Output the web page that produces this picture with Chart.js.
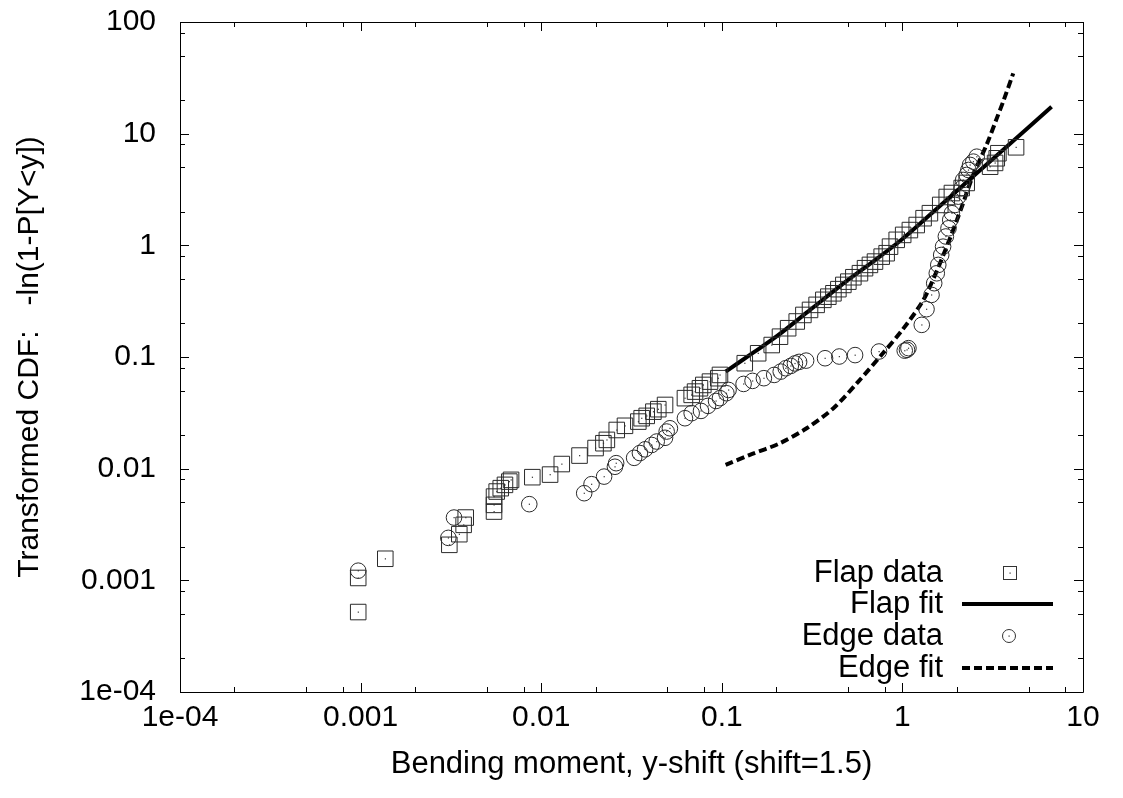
<!DOCTYPE html>
<html lang="en">
<head>
<meta charset="UTF-8">
<title>Transformed CDF - flap / edge bending moment</title>
<script src="https://cdn.jsdelivr.net/npm/chart.js"></script>
<style>
  html, body { margin: 0; padding: 0; background: #fff; }
</style>
</head>
<body>
<canvas id="chart" width="1123" height="798"></canvas>

<script>
// ---------------- data ----------------

// Flap data (squares)
const flapX = [0.00097, 0.00097, 0.00137, 0.0031, 0.00352, 0.00372, 0.00382, 0.00548, 0.00548, 0.00548,
  0.00567, 0.00597, 0.0063, 0.00666, 0.00681, 0.00893, 0.0112, 0.013, 0.0163, 0.02,
  0.0221, 0.0231, 0.0262, 0.0291, 0.0345, 0.036, 0.0384, 0.0418, 0.0445, 0.0485,
  0.0625, 0.0681, 0.0711, 0.0757, 0.079, 0.086, 0.0956, 0.0977, 0.134, 0.159,
  0.189, 0.21, 0.233, 0.26, 0.283, 0.308, 0.335, 0.365, 0.389, 0.415,
  0.442, 0.471, 0.502, 0.535, 0.582, 0.621, 0.661, 0.705, 0.768, 0.818,
  0.854, 0.93, 1.01, 1.1, 1.2, 1.31, 1.42, 1.62, 1.76, 1.88,
  2.13, 2.27, 3.06, 3.26, 3.33, 3.4, 4.26];
const flapY = [0.00052, 0.00105, 0.00156, 0.00208, 0.00259, 0.00314, 0.00365, 0.00413, 0.00474, 0.00562,
  0.00624, 0.00669, 0.00716, 0.00766, 0.00794, 0.00839, 0.00885, 0.011, 0.0131, 0.0153,
  0.0169, 0.0181, 0.0222, 0.0242, 0.0264, 0.0283, 0.0297, 0.0324, 0.0341, 0.0372,
  0.0428, 0.0458, 0.049, 0.0525, 0.0562, 0.0602, 0.0646, 0.0691, 0.088, 0.108,
  0.128, 0.152, 0.181, 0.208, 0.238, 0.264, 0.293, 0.325, 0.347, 0.372,
  0.405, 0.442, 0.473, 0.518, 0.563, 0.624, 0.668, 0.715, 0.792, 0.85,
  0.973, 1.12, 1.24, 1.37, 1.52, 1.75, 1.94, 2.3, 2.71, 2.94,
  3.26, 3.62, 5.06, 5.47, 6.02, 6.68, 7.55];

// Edge data (circles)
const edgeX = [0.00097, 0.00306, 0.00329, 0.00859, 0.0173, 0.019, 0.0223, 0.0256, 0.026, 0.0327,
  0.0352, 0.0376, 0.0409, 0.0436, 0.0485, 0.0495, 0.0516, 0.0625, 0.0681, 0.0767,
  0.0839, 0.0929, 0.0977, 0.106, 0.109, 0.132, 0.148, 0.171, 0.195, 0.212,
  0.226, 0.241, 0.254, 0.268, 0.293, 0.373, 0.447, 0.547, 0.742, 1.03,
  1.06, 1.08, 1.28, 1.36, 1.45, 1.5, 1.55, 1.58, 1.64, 1.68,
  1.74, 1.8, 1.84, 1.88, 1.96, 2.04, 2.13, 2.17, 2.27, 2.32,
  2.37, 2.47, 2.58];
const edgeY = [0.00122, 0.0024, 0.00365, 0.00481, 0.00603, 0.00726, 0.00849, 0.0104, 0.0112, 0.0125,
  0.0138, 0.0149, 0.0163, 0.0175, 0.0189, 0.0215, 0.023, 0.0283, 0.0314, 0.0329,
  0.0365, 0.0404, 0.0428, 0.0474, 0.0507, 0.0574, 0.0611, 0.0646, 0.0691, 0.074,
  0.0793, 0.0832, 0.0876, 0.0904, 0.0928, 0.0975, 0.101, 0.104, 0.112, 0.114,
  0.116, 0.12, 0.194, 0.268, 0.36, 0.458, 0.562, 0.668, 0.82, 0.973,
  1.2, 1.42, 1.69, 1.94, 2.3, 2.73, 3.25, 3.85, 4.27, 4.73,
  5.25, 5.62, 6.22];

// fitted curves
const flapFitX = [0.105, 0.15, 0.2, 0.3, 0.5, 0.7, 1, 1.5, 2, 3, 4, 5, 6.7];
const flapFitY = [0.074, 0.11, 0.152, 0.255, 0.49, 0.73, 1.14, 2.03, 3.07, 5.5, 8.3, 11.4, 17.4];

const edgeFitX = [0.105, 0.143, 0.21, 0.295, 0.415, 0.57, 0.78, 1.0, 1.3, 1.55, 1.84, 2.13, 2.47, 2.93, 3.33, 3.62, 4.11];
const edgeFitY = [0.0108, 0.0133, 0.0169, 0.023, 0.0348, 0.0602, 0.108, 0.175, 0.32, 0.59, 1.17, 2.2, 4.3, 8.0, 13.7, 19.5, 34.7];

// axes
const xDecades = [1e-4, 1e-3, 1e-2, 1e-1, 1, 10];
const xTickLabels = ['1e-04', '0.001', '0.01', '0.1', '1', '10'];
const yDecades = [1e-4, 1e-3, 1e-2, 1e-1, 1, 10, 100];
const yTickLabels = ['1e-04', '0.001', '0.01', '0.1', '1', '10', '100'];
const minorSteps = [2, 5, 8];   // gnuplot minor tics inside each decade

const legendLabels = ['Flap data', 'Flap fit', 'Edge data', 'Edge fit'];

const xTitle = 'Bending moment, y-shift (shift=1.5)';
const yTitle = 'Transformed CDF:   -ln(1-P[Y<y])';

// ---------------- helpers ----------------
const FONT = "'Liberation Sans', Arial, Helvetica, sans-serif";
const INK = '#000';

function toPoints(xs, ys) {
    return xs.map((x, i) => ({ x: x, y: ys[i] }));
}

function tickList(decades) {
    let out = [];
    decades.forEach((d, i) => {
        out.push({ value: d, major: true });
        if (i < decades.length - 1) {
            minorSteps.forEach(m => out.push({ value: Number((m * d).toPrecision(3)), major: false }));
        }
    });
    return out;
}

function labelFor(decades, labels, v) {
    for (let i = 0; i < decades.length; i++) {
        if (Math.abs(v - decades[i]) / decades[i] < 1e-6) return labels[i];
    }
    return '';
}

// frame with inward ticks on all four sides
const framePlugin = {
    id: 'frame',
    beforeDatasetsDraw(chart) {
        const { ctx, chartArea: a, scales } = chart;
        ctx.save();
        ctx.strokeStyle = INK;
        ctx.lineWidth = 1;
        ctx.beginPath();
        ctx.rect(Math.round(a.left) + 0.5, Math.round(a.top) + 0.5,
                 Math.round(a.right - a.left), Math.round(a.bottom - a.top));
        scales.x.ticks.forEach(t => {
            const px = Math.round(scales.x.getPixelForValue(t.value)) + 0.5;
            const len = t.major ? 9 : 5;
            ctx.moveTo(px, a.bottom); ctx.lineTo(px, a.bottom - len);
            ctx.moveTo(px, a.top); ctx.lineTo(px, a.top + len);
        });
        scales.y.ticks.forEach(t => {
            const py = Math.round(scales.y.getPixelForValue(t.value)) + 0.5;
            const len = t.major ? 9 : 5;
            ctx.moveTo(a.left, py); ctx.lineTo(a.left + len, py);
            ctx.moveTo(a.right, py); ctx.lineTo(a.right - len, py);
        });
        ctx.stroke();
        ctx.restore();
    }
};

// small dot in the middle of every data symbol
const dotPlugin = {
    id: 'dots',
    afterDatasetsDraw(chart) {
        const ctx = chart.ctx;
        ctx.save();
        ctx.fillStyle = '#333';
        [0, 2].forEach(i => {
            chart.getDatasetMeta(i).data.forEach(p => ctx.fillRect(p.x - 0.5, p.y - 0.5, 1.2, 1.2));
        });
        ctx.restore();
    }
};

// gnuplot style key: right aligned text, sample on the right
const keyPlugin = {
    id: 'key',
    afterDraw(chart) {
        const { ctx, chartArea: a } = chart;
        const textRight = a.right - 140;
        const sx0 = a.right - 121, sx1 = a.right - 30, sc = a.right - 73;
        const rows = [a.bottom - 119, a.bottom - 88, a.bottom - 56, a.bottom - 24];
        ctx.save();
        ctx.font = '31px ' + FONT;
        ctx.fillStyle = INK;
        ctx.textAlign = 'right';
        ctx.textBaseline = 'middle';
        legendLabels.forEach((t, i) => ctx.fillText(t, textRight, rows[i]));

        ctx.strokeStyle = '#333';
        ctx.lineWidth = 1;
        ctx.strokeRect(sc - 6.5, rows[0] - 6.5, 13, 13);
        ctx.beginPath();
        ctx.arc(sc - 1, rows[2], 6.5, 0, Math.PI * 2);
        ctx.stroke();
        ctx.fillStyle = '#333';
        ctx.fillRect(sc - 0.5, rows[0] - 0.5, 1.2, 1.2);
        ctx.fillRect(sc - 1.5, rows[2] - 0.5, 1.2, 1.2);

        ctx.strokeStyle = INK;
        ctx.lineWidth = 4;
        ctx.beginPath();
        ctx.moveTo(sx0, rows[1]); ctx.lineTo(sx1, rows[1]);
        ctx.stroke();
        ctx.setLineDash([8, 4]);
        ctx.beginPath();
        ctx.moveTo(sx0, rows[3]); ctx.lineTo(sx1, rows[3]);
        ctx.stroke();
        ctx.restore();
    }
};

// ---------------- chart ----------------
const ctx = document.getElementById('chart');
new Chart(ctx, {
    type: 'scatter',
    data: {
        datasets: [{
            label: legendLabels[0],
            data: toPoints(flapX, flapY),
            pointStyle: 'rect',
            pointRadius: 11,
            borderWidth: 1,
            borderColor: '#2a2a2a',
            backgroundColor: 'rgba(0,0,0,0)'
        }, {
            label: legendLabels[1],
            data: toPoints(flapFitX, flapFitY),
            showLine: true,
            pointRadius: 0,
            borderColor: INK,
            borderWidth: 4,
            tension: 0.3
        }, {
            label: legendLabels[2],
            data: toPoints(edgeX, edgeY),
            pointStyle: 'circle',
            pointRadius: 7.8,
            borderWidth: 1,
            borderColor: '#2a2a2a',
            backgroundColor: 'rgba(0,0,0,0)'
        }, {
            label: legendLabels[3],
            data: toPoints(edgeFitX, edgeFitY),
            showLine: true,
            pointRadius: 0,
            borderColor: INK,
            borderWidth: 4,
            borderDash: [8, 4],
            tension: 0.3
        }]
    },
    options: {
        responsive: false,
        animation: false,
        layout: { padding: { left: 0, right: 40, top: 22, bottom: 0 } },
        plugins: {
            legend: { display: false },
            tooltip: { enabled: false }
        },
        scales: {
            x: {
                type: 'logarithmic',
                min: 1e-4,
                max: 10,
                grid: { display: false, drawTicks: false },
                border: { display: false },
                afterBuildTicks: s => { s.ticks = tickList(xDecades); },
                afterFit: s => { s.height = 106; },
                ticks: {
                    autoSkip: false,
                    maxRotation: 0,
                    padding: 8,
                    color: INK,
                    font: { family: FONT, size: 30 },
                    callback: v => labelFor(xDecades, xTickLabels, v)
                },
                title: {
                    display: true,
                    text: xTitle,
                    color: INK,
                    font: { family: FONT, size: 31 },
                    padding: { top: 0, bottom: 15 }
                }
            },
            y: {
                type: 'logarithmic',
                min: 1e-4,
                max: 100,
                grid: { display: false, drawTicks: false },
                border: { display: false },
                afterBuildTicks: s => { s.ticks = tickList(yDecades); },
                afterFit: s => {
                    s.width = 180;
                    // keep the label overhang from pushing the plot down
                    s.paddingTop = 0;
                    s.paddingBottom = 0;
                },
                ticks: {
                    autoSkip: false,
                    padding: 24,
                    color: INK,
                    font: { family: FONT, size: 30 },
                    callback: v => labelFor(yDecades, yTickLabels, v)
                },
                title: {
                    display: true,
                    text: yTitle,
                    color: INK,
                    font: { family: FONT, size: 30 },
                    padding: { top: 12, bottom: 12 }
                }
            }
        }
    },
    plugins: [framePlugin, dotPlugin, keyPlugin]
});
</script>
</body>
</html>
